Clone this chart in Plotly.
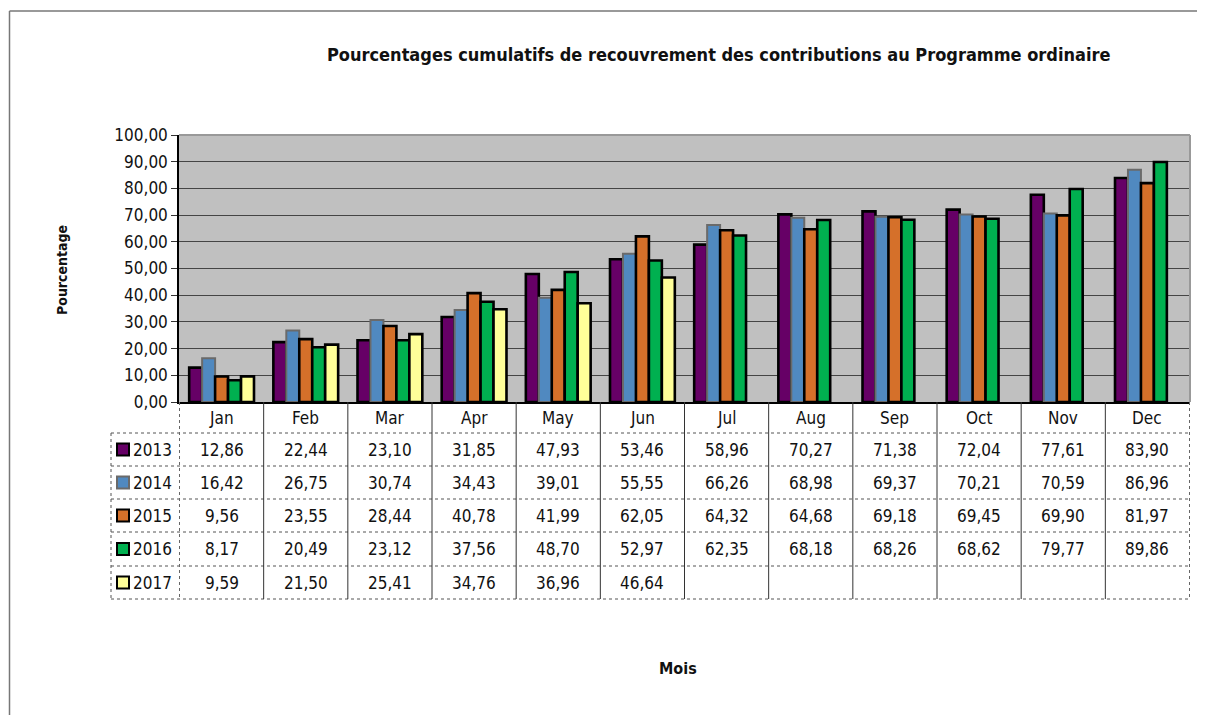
import plotly.graph_objects as go

months = ["Jan", "Feb", "Mar", "Apr", "May", "Jun", "Jul", "Aug", "Sep", "Oct", "Nov", "Dec"]
years = ["2013", "2014", "2015", "2016", "2017"]
v2013 = [12.86, 22.44, 23.10, 31.85, 47.93, 53.46, 58.96, 70.27, 71.38, 72.04, 77.61, 83.90]
v2014 = [16.42, 26.75, 30.74, 34.43, 39.01, 55.55, 66.26, 68.98, 69.37, 70.21, 70.59, 86.96]
v2015 = [9.56, 23.55, 28.44, 40.78, 41.99, 62.05, 64.32, 64.68, 69.18, 69.45, 69.90, 81.97]
v2016 = [8.17, 20.49, 23.12, 37.56, 48.70, 52.97, 62.35, 68.18, 68.26, 68.62, 79.77, 89.86]
v2017 = [9.59, 21.50, 25.41, 34.76, 36.96, 46.64, None, None, None, None, None, None]
series = [v2013, v2014, v2015, v2016, v2017]
colors = ["#660066", "#5089C0", "#D5702A", "#00B050", "#FFFF99"]
outlines = ["#000000", "#6A6A6A", "#000000", "#000000", "#000000"]
outline_w = [2.6, 2.0, 2.6, 2.6, 2.6]
yticks = [0, 10, 20, 30, 40, 50, 60, 70, 80, 90, 100]

FONT = "DejaVu Sans Condensed, Liberation Sans Narrow, Arial Narrow, sans-serif"

# page body has an 8px margin: figure drawn 8px in from window corner
OFF = 8
WIN_W, WIN_H = 1205, 715
W, H = WIN_W - OFF, WIN_H - OFF
# plot area in window pixel coordinates
PX0, PX1, PY0, PY1 = 179, 1190, 135, 402


def px(x):
    return (x - PX0) / (PX1 - PX0)


def py(y):
    return (PY1 - y) / (PY1 - PY0)


fig = go.Figure()
for yr, vals, c, oc, ow in zip(years, series, colors, outlines, outline_w):
    fig.add_trace(go.Bar(
        x=months, y=vals, name=yr,
        marker=dict(color=c, line=dict(color=oc, width=ow)),
        showlegend=False,
    ))

shapes = []
annotations = []

row_edges = [433, 466, 499, 532, 566, 599]
header_center = 417.5
table_left = 111

for ry in row_edges:
    shapes.append(dict(type="line", xref="paper", yref="paper",
                       x0=px(table_left), x1=px(PX1), y0=py(ry), y1=py(ry),
                       line=dict(color="#555555", width=1, dash="dot")))
shapes.append(dict(type="line", xref="paper", yref="paper",
                   x0=px(table_left), x1=px(table_left), y0=py(row_edges[0]), y1=py(row_edges[-1]),
                   line=dict(color="#555555", width=1, dash="dot")))
for k in range(len(months) + 1):
    edge = k - 0.5
    outer = k in (0, len(months))
    shapes.append(dict(type="line", xref="x", yref="paper",
                       x0=edge, x1=edge, y0=py(PY1), y1=py(row_edges[-1]),
                       line=dict(color="#666666" if outer else "#333333", width=1,
                                 dash="dot" if outer else "solid")))

shapes.append(dict(type="line", xref="paper", yref="paper", x0=0, x1=1, y0=1, y1=1,
                   line=dict(color="#999999", width=2)))
shapes.append(dict(type="line", xref="paper", yref="paper", x0=1, x1=1, y0=0, y1=1,
                   line=dict(color="#999999", width=2)))

shapes.append(dict(type="line", xref="paper", yref="paper",
                   x0=px(9.5), x1=px(9.5), y0=py(WIN_H + 5), y1=py(11),
                   line=dict(color="#777777", width=1.5)))
shapes.append(dict(type="line", xref="paper", yref="paper",
                   x0=px(9.5), x1=px(WIN_W + 5), y0=py(11), y1=py(11),
                   line=dict(color="#777777", width=1.5)))

TXT = dict(family=FONT, size=17, color="#111111")

for m in months:
    annotations.append(dict(x=m, xref="x", y=py(header_center), yref="paper",
                            text=m, showarrow=False, xanchor="center", yanchor="middle",
                            font=TXT))

for i, (yr, vals, c, oc) in enumerate(zip(years, series, colors, outlines)):
    cy = (row_edges[i] + row_edges[i + 1]) / 2
    shapes.append(dict(type="rect", xref="paper", yref="paper",
                       x0=px(117), x1=px(129), y0=py(cy + 6), y1=py(cy - 6),
                       fillcolor=c, line=dict(color=oc, width=2)))
    annotations.append(dict(x=px(131), xref="paper", y=py(cy), yref="paper",
                            text=yr, showarrow=False, xanchor="left", yanchor="middle",
                            font=TXT))
    for m, v in zip(months, vals):
        if v is None:
            continue
        annotations.append(dict(x=m, xref="x", y=py(cy), yref="paper",
                                text=f"{v:.2f}".replace(".", ","), showarrow=False,
                                xanchor="center", yanchor="middle", font=TXT))

annotations.append(dict(x=px(718), y=py(55), xref="paper", yref="paper",
                        text="<b>Pourcentages cumulatifs de recouvrement des contributions au Programme ordinaire</b>",
                        showarrow=False, xanchor="center", yanchor="middle",
                        font=dict(family=FONT, size=18, color="#111111")))
annotations.append(dict(x=px(62), y=py(270), xref="paper", yref="paper",
                        text="<b>Pourcentage</b>", textangle=-90,
                        showarrow=False, xanchor="center", yanchor="middle",
                        font=dict(family=FONT, size=14, color="#111111")))
annotations.append(dict(x=px(678), y=py(668), xref="paper", yref="paper",
                        text="<b>Mois</b>",
                        showarrow=False, xanchor="center", yanchor="middle",
                        font=dict(family=FONT, size=16, color="#111111")))

fig.update_layout(
    width=W, height=H,
    margin=dict(l=PX0 - OFF, r=W - (PX1 - OFF), t=PY0 - OFF, b=H - (PY1 - OFF), pad=0),
    paper_bgcolor="white",
    plot_bgcolor="#C0C0C0",
    barmode="group",
    bargap=0.23,
    bargroupgap=0,
    separators=", ",
    shapes=shapes,
    annotations=annotations,
    font=dict(family=FONT, size=16, color="#111111"),
)
fig.update_xaxes(showticklabels=False, showgrid=False, showline=True, linecolor="black",
                 linewidth=1.5, ticks="", zeroline=False)
fig.update_yaxes(range=[0, 100], tickvals=yticks, tickformat=".2f",
                 showgrid=True, gridcolor="#454545", gridwidth=1.4,
                 showline=True, linecolor="black", linewidth=1.5,
                 ticks="outside", ticklen=6, tickcolor="#333333",
                 zeroline=False, tickfont=dict(family=FONT, size=17, color="#111111"))

fig.write_html("out.html")
